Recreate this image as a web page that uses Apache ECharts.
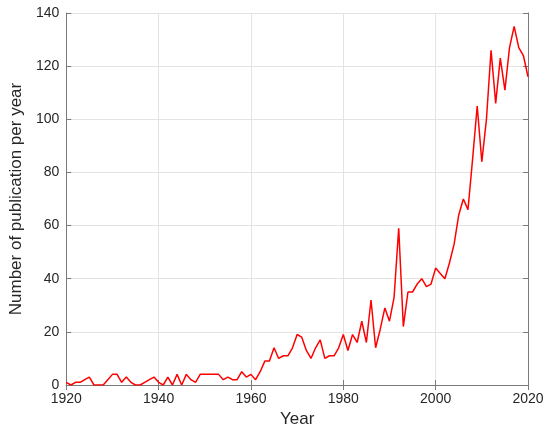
<!DOCTYPE html>
<html>
<head>
<meta charset="utf-8">
<script src="https://cdn.jsdelivr.net/npm/echarts@6/dist/echarts.min.js"></script>
<style>html,body{margin:0;padding:0;background:#fff}#c{width:550px;height:435px}</style>
</head>
<body>
<div id="c"></div>
<script>
const years = [];
for (let y = 1920; y <= 2020; y++) years.push(y);
const counts = [
  1,0,1,1,2,3,0,0,0,2,
  4,4,1,3,1,0,0,1,2,3,
  1,0,3,0,4,0,4,2,1,4,
  4,4,4,4,2,3,2,2,5,3,
  4,2,5,9,9,14,10,11,11,14,
  19,18,13,10,14,17,10,11,11,14,
  19,13,19,16,24,16,32,14,21,29,
  24,33,59,22,35,35,38,40,37,38,
  44,42,40,46,53,64,70,66,85,105,
  84,100,126,106,123,111,127,135,127,124,
  116
];
const xTicks = [1920, 1940, 1960, 1980, 2000, 2020];
const yTicks = [0, 20, 40, 60, 80, 100, 120, 140];

const boxCol = '#7a7a7a';
const textCol = '#262626';
const font = 'Liberation Sans, Arial, sans-serif';
const chart = echarts.init(document.getElementById('c'), null, {renderer: 'canvas'});
const baseX = {
  type: 'value', min: xTicks[0], max: xTicks[xTicks.length - 1], interval: 20,
  axisLine: {show: true, lineStyle: {color: boxCol, width: 1}},
  axisTick: {show: true, inside: true, length: 5, lineStyle: {color: boxCol}},
  splitLine: {show: false}
};
const baseY = {
  type: 'value', min: yTicks[0], max: yTicks[yTicks.length - 1], interval: 20,
  axisLine: {show: true, lineStyle: {color: boxCol, width: 1}},
  axisTick: {show: true, inside: true, length: 5, lineStyle: {color: boxCol}},
  splitLine: {show: false}
};
chart.setOption({
  animation: false,
  grid: {left: 58, right: 22, top: 13, bottom: 50, containLabel: false},
  xAxis: [
    Object.assign({}, baseX, {
      position: 'bottom',
      name: 'Year', nameLocation: 'middle', nameGap: 24,
      nameTextStyle: {fontFamily: font, fontSize: 17, color: textCol},
      axisLabel: {fontFamily: font, fontSize: 14, color: textCol, margin: 7, formatter: v => String(v)},
      splitLine: {show: true, lineStyle: {color: '#e3e3e3', width: 1}}
    }),
    Object.assign({}, baseX, {position: 'top', axisLabel: {show: false}})
  ],
  yAxis: [
    Object.assign({}, baseY, {
      position: 'left',
      name: 'Number of publication per year', nameLocation: 'middle', nameGap: 32,
      nameTextStyle: {fontFamily: font, fontSize: 17, color: textCol},
      axisLabel: {fontFamily: font, fontSize: 14, color: textCol, margin: 7},
      splitLine: {show: true, lineStyle: {color: '#e3e3e3', width: 1}}
    }),
    Object.assign({}, baseY, {position: 'right', axisLabel: {show: false}})
  ],
  series: [{
    type: 'line',
    data: years.map((y, i) => [y, counts[i]]),
    showSymbol: false,
    lineStyle: {color: '#ff0000', width: 1.5},
    itemStyle: {color: '#ff0000'}
  }]
});
</script>
</body>
</html>
